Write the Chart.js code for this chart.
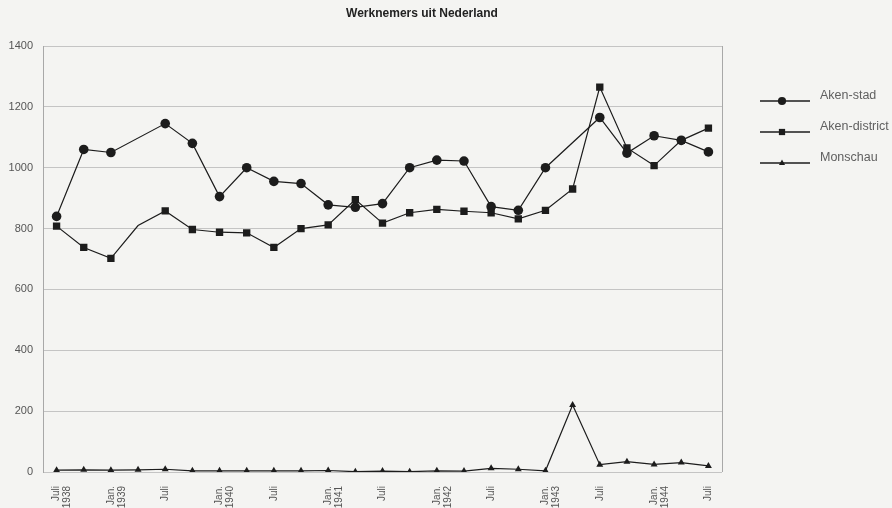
<!DOCTYPE html>
<html>
<head>
<meta charset="utf-8">
<script src="https://cdn.jsdelivr.net/npm/chart.js@4/dist/chart.umd.min.js"></script>
<style>
  html, body { margin: 0; padding: 0; background: #f4f4f2; }
  #wrap { width: 892px; height: 508px; position: relative; }
</style>
</head>
<body>
<div id="wrap"><canvas id="myChart"></canvas></div>
<script>
// quarterly, Juli 1938 .. Juli 1944 (only every other quarter is labelled)
const labels = [
  ['Juli', '1938'], '', ['Jan.', '1939'], '', 'Juli', '',
  ['Jan.', '1940'], '', 'Juli', '', ['Jan.', '1941'], '', 'Juli', '',
  ['Jan.', '1942'], '', 'Juli', '', ['Jan.', '1943'], '', 'Juli', '',
  ['Jan.', '1944'], '', 'Juli'
]
const akenStad = [840, 1060, 1050, null, 1145, 1080, 905, 1000, 955, 948, 878, 870, 882,
  1000, 1025, 1022, 872, 860, 1000, null, 1165, 1048, 1105, 1090, 1052]
const akenDistrict = [808, 738, 702, 810, 858, 797, 788, 786, 738, 800, 812, 895, 818,
  852, 863, 857, 852, 832, 860, 930, 1265, 1065, 1007, 1090, 1130]
const monschau = [6, 7, 6, 7, 9, 4, 4, 4, 4, 4, 5, 1, 3,
  1, 4, 3, 12, 9, 4, 220, 24, 34, 25, 31, 20]
const yTicks = [0, 200, 400, 600, 800, 1000, 1200, 1400]

const title = 'Werknemers uit Nederland'
const ink = '#1c1c1c'
const textGray = '#555'
const markerSize = { circle: 4.8, rect: 5.2, triangle: 4 }

// title, right border and the line+marker legend
const extras = {
  id: 'extras',
  afterDraw(chart) {
    const { ctx, chartArea } = chart
    ctx.save()
    ctx.strokeStyle = '#a8a8a8'
    ctx.lineWidth = 1
    ctx.beginPath()
    ctx.moveTo(chartArea.right + 0.5, chartArea.top)
    ctx.lineTo(chartArea.right + 0.5, chartArea.bottom)
    ctx.stroke()

    ctx.fillStyle = '#222'
    ctx.font = 'bold 12px "Liberation Sans", Arial, sans-serif'
    ctx.textAlign = 'center'
    ctx.textBaseline = 'middle'
    ctx.fillText(title, chartArea.left + 379, 14)

    ctx.font = '12.5px "Liberation Sans", Arial, sans-serif'
    ctx.textAlign = 'left'
    chart.data.datasets.forEach((ds, i) => {
      const y = chartArea.top + 55 + i * 31
      const x0 = chartArea.right + 38
      const x1 = x0 + 50
      const cx = x0 + 22
      ctx.strokeStyle = ink
      ctx.lineWidth = 1.4
      ctx.beginPath()
      ctx.moveTo(x0, y)
      ctx.lineTo(x1, y)
      ctx.stroke()
      ctx.fillStyle = ink
      ctx.beginPath()
      const r = markerSize[ds.pointStyle] * 0.85
      if (ds.pointStyle === 'circle') {
        ctx.arc(cx, y, r, 0, Math.PI * 2)
      } else if (ds.pointStyle === 'rect') {
        const s = r * Math.SQRT1_2
        ctx.rect(cx - s, y - s, 2 * s, 2 * s)
      } else {
        ctx.moveTo(cx, y - r)
        ctx.lineTo(cx + r * 0.9, y + r * 0.6)
        ctx.lineTo(cx - r * 0.9, y + r * 0.6)
        ctx.closePath()
      }
      ctx.fill()
      ctx.fillStyle = '#606060'
      ctx.fillText(ds.label, x1 + 10, y - 5)
    })
    ctx.restore()
  }
}

const ctx = document.getElementById('myChart').getContext('2d')

new Chart(ctx, {
  type: 'line',
  data: {
    labels: labels,
    datasets: [{
      label: 'Aken-stad',
      data: akenStad,
      borderColor: ink,
      backgroundColor: ink,
      pointBackgroundColor: ink,
      pointBorderWidth: 0,
      pointStyle: 'circle',
      pointRadius: markerSize.circle,
      borderWidth: 1.2,
      spanGaps: true,
      tension: 0
    },
    {
      label: 'Aken-district',
      data: akenDistrict,
      borderColor: ink,
      backgroundColor: ink,
      pointBackgroundColor: ink,
      pointBorderWidth: 0,
      pointStyle: 'rect',
      // the april 1939 value has no marker in the original
      pointRadius: (c) => c.dataIndex === 3 ? 0 : markerSize.rect,
      borderWidth: 1.2,
      tension: 0
    },
    {
      label: 'Monschau',
      data: monschau,
      borderColor: ink,
      backgroundColor: ink,
      pointBackgroundColor: ink,
      pointBorderWidth: 0,
      pointStyle: 'triangle',
      pointRadius: markerSize.triangle,
      borderWidth: 1.2,
      tension: 0
    }]
  },
  options: {
    responsive: true,
    maintainAspectRatio: false,
    animation: false,
    layout: {
      padding: { top: 46, right: 170, left: 0, bottom: 0 }
    },
    scales: {
      y: {
        min: 0,
        max: 1400,
        afterFit: (s) => { s.width = 43 },
        afterBuildTicks: (s) => { s.ticks = yTicks.map(v => ({ value: v })) },
        ticks: {
          padding: 10,
          color: textGray,
          callback: (v) => String(v),
          font: { size: 11, family: '"Liberation Sans", Arial, sans-serif' }
        },
        grid: {
          color: '#c4c4c4',
          drawTicks: false
        },
        border: { display: true, color: '#a8a8a8' }
      },
      x: {
        offset: true,
        afterFit: (s) => { s.height = 36 },
        ticks: {
          autoSkip: false,
          minRotation: 90,
          maxRotation: 90,
          padding: 6,
          color: textGray,
          font: { size: 10, family: '"Liberation Sans", Arial, sans-serif', lineHeight: 1.1 }
        },
        grid: {
          display: false
        },
        border: { display: false }
      }
    },
    plugins: {
      legend: { display: false },
      title: { display: false },
      tooltip: { enabled: false }
    }
  },
  plugins: [extras]
})
</script>
</body>
</html>
